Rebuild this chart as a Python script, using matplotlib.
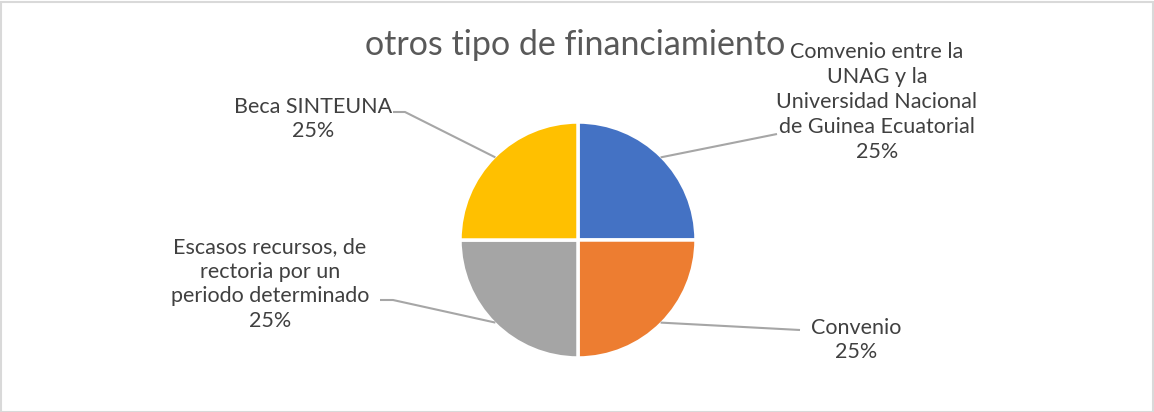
import matplotlib.pyplot as plt
from matplotlib.patches import Rectangle
import numpy as np

# data
labels = ["Comvenio entre la\nUNAG y la\nUniversidad Nacional\nde Guinea Ecuatorial",
          "Convenio",
          "Escasos recursos, de\nrectoria por un\nperiodo determinado",
          "Beca SINTEUNA"]
values = [25, 25, 25, 25]
colors = ["#4472C4", "#ED7D31", "#A5A5A5", "#FFC000"]
title = "otros tipo de financiamiento"

# label placement (pixel coords) and leader line knee points
label_pos = [(877, 102), (856, 340), (270, 284), (313, 119)]
line_end = [(777, 134), (800, 330), (393, 300), (405, 112)]
line_tail = [None, None, (380, 300), (393, 112)]

plt.rcParams['font.family'] = ['Lato', 'DejaVu Sans']

fig = plt.figure(figsize=(11.54, 4.12), dpi=100)
ax = fig.add_axes([0, 0, 1, 1])

cx, cy, r = 578, 240, 118
# y axis is flipped below, so start at -90 and go counterclockwise in data
# coords, which reads as clockwise from 12 o'clock on screen
wedges, _ = ax.pie(values, colors=colors, startangle=-90, counterclock=True,
                   center=(cx, cy), radius=r,
                   wedgeprops=dict(edgecolor="white", linewidth=2.5))
ax.set_xlim(0, 1154)
ax.set_ylim(412, 0)
ax.set_aspect('auto')
ax.axis('off')

for i, w in enumerate(wedges):
    ang = np.deg2rad((w.theta1 + w.theta2) / 2)
    sx = cx + r * 0.99 * np.cos(ang)
    sy = cy + r * 0.99 * np.sin(ang)
    ex, ey = line_end[i]
    xs, ys = [sx, ex], [sy, ey]
    if line_tail[i] is not None:
        xs.append(line_tail[i][0])
        ys.append(line_tail[i][1])
    ax.plot(xs, ys, color="#A6A6A6", lw=1.5, solid_capstyle='butt')
    tx, ty = label_pos[i]
    ax.text(tx, ty, labels[i] + "\n%d%%" % values[i], ha='center', va='center',
            fontsize=15.5, color="#404040", linespacing=1.3)

ax.text(575, 45, title, ha='center', va='center', fontsize=24.5, color="#595959")

fig.patches.append(Rectangle((0.5, 0.5), 1152, 410, transform=None, fill=False,
                             edgecolor="#D9D9D9", lw=1.5))

fig.savefig("out.png", dpi=100)
